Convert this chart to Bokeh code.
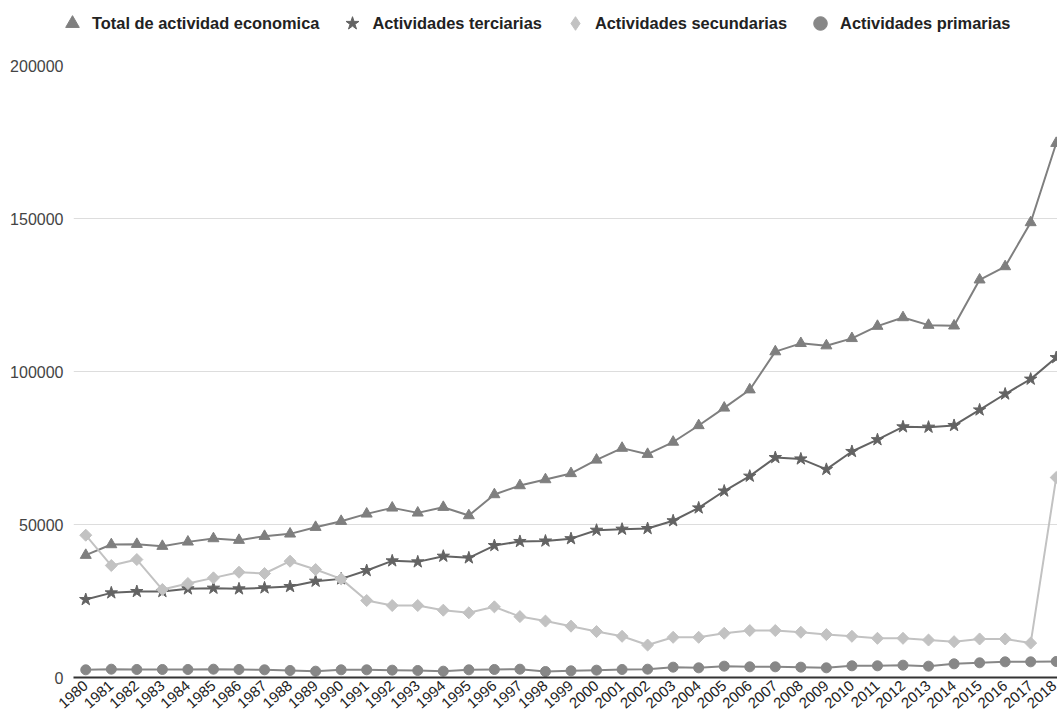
import math
from bokeh.plotting import figure
from bokeh.layouts import column
from bokeh.models import (ColumnDataSource, Legend, LegendItem, FixedTicker,
                          Range1d)
from bokeh.embed import file_html
from bokeh.resources import INLINE

# ---------------- data ----------------
years = list(range(1980, 2019))
year_labels = [str(y) for y in years]

total = [39970, 43450, 43560, 42910, 44320, 45410, 44870, 46170, 46940, 49110,
         51070, 53470, 55430, 53800, 55650, 52930, 59790, 62730, 64690, 66680,
         71100, 74960, 72970, 76950, 82360, 88100, 94050, 106490, 109200, 108440,
         110820, 114820, 117640, 115150, 114930, 129970, 134300, 148690, 174600]

terciarias = [25480, 27660, 28100, 28100, 28970, 29190, 28970, 29290, 29730, 31470,
              32230, 34960, 38120, 37790, 39640, 39100, 43120, 44450, 44600, 45370,
              48130, 48470, 48690, 51230, 55420, 60940, 65800, 71870, 71430, 68010,
              73860, 77720, 81920, 81810, 82360, 87440, 92640, 97510, 104540]

secundarias = [46500, 36590, 38550, 28750, 30710, 32560, 34410, 33980, 38010, 35280,
               32230, 25160, 23520, 23520, 22000, 21130, 23090, 19900, 18440, 16780,
               15010, 13470, 10600, 13140, 13140, 14460, 15350, 15350, 14790, 14020,
               13470, 12810, 12810, 12250, 11700, 12590, 12590, 11260, 65360]

primarias = [2510, 2720, 2620, 2620, 2620, 2720, 2620, 2510, 2290, 2070,
             2510, 2510, 2400, 2290, 2070, 2510, 2620, 2720, 1960, 2180,
             2400, 2620, 2720, 3380, 3160, 3710, 3490, 3490, 3380, 3160,
             3820, 3820, 4030, 3710, 4470, 4800, 5120, 5120, 5230]

series_names = ["Total de actividad economica", "Actividades terciarias",
                "Actividades secundarias", "Actividades primarias"]
y_ticks = [0, 50000, 100000, 150000, 200000]

source = ColumnDataSource(dict(x=years, total=total, terciarias=terciarias,
                               secundarias=secundarias, primarias=primarias))

FONT = "Liberation Sans"
c_total = "#7f7f7f"
c_ter = "#636363"
c_sec = "#c2c2c2"
c_pri = "#878787"
# (column, marker, size, angle, colour)
styles = [("total", "triangle", 11, 0.0, c_total),
          ("terciarias", "star", 13, 0.0, c_ter),
          ("secundarias", "square", 8.5, math.pi / 4, c_sec),
          ("primarias", "circle", 10, 0.0, c_pri)]
legend_markers = ["triangle", "star", "diamond", "circle"]

LEFT = 73
LEG_H = 45

# ---------------- legend strip (top) ----------------
leg = figure(width=1057, height=LEG_H, output_backend="svg", toolbar_location=None,
             x_axis_location=None, y_axis_location=None,
             x_range=Range1d(1979.52, 2018.05), y_range=Range1d(0, 200000),
             min_border_left=0, min_border_right=0,
             min_border_top=0, min_border_bottom=0)
leg.frame_align = False
leg.outline_line_color = None
leg.xgrid.visible = False
leg.ygrid.visible = False
items = []
for name, lm, (key, marker, size, angle, col) in zip(series_names, legend_markers, styles):
    r = leg.scatter("x", key, source=source, marker=lm, size=size,
                    fill_color=col, line_color=col, visible=False)
    items.append(LegendItem(label=name, renderers=[r]))

legend = Legend(items=items, orientation="horizontal", location=(55, 5),
                glyph_width=34, glyph_height=34, label_standoff=3, spacing=16,
                padding=0, margin=0, border_line_color=None,
                background_fill_alpha=0,
                label_text_font=FONT, label_text_font_size="16.4px",
                label_text_font_style="bold", label_text_color="#222222",
                label_height=18)
leg.add_layout(legend, "center")

# ---------------- main chart ----------------
p = figure(width=1057, height=717 - LEG_H, output_backend="svg",
           toolbar_location=None,
           x_range=Range1d(1979.52, 2018.05), y_range=Range1d(0, 200000),
           min_border_left=LEFT, min_border_right=0, min_border_top=65 - LEG_H,
           min_border_bottom=40)
p.outline_line_color = None
p.background_fill_color = "white"
p.border_fill_color = "white"

p.xaxis.ticker = FixedTicker(ticks=years)
p.xaxis.major_label_overrides = {y: l for y, l in zip(years, year_labels)}
p.xaxis.major_label_orientation = 0.72
p.xaxis.major_label_text_font = FONT
p.xaxis.major_label_text_font_size = "15px"
p.xaxis.major_label_text_color = "#222222"
p.xaxis.major_tick_line_color = None
p.xaxis.minor_tick_line_color = None
p.xaxis.major_tick_out = 0
p.xaxis.major_tick_in = 0
p.xaxis.major_label_standoff = 6
p.xaxis.axis_line_color = "#333333"
p.xaxis.axis_line_width = 2

p.yaxis.ticker = FixedTicker(ticks=y_ticks)
p.yaxis.major_label_overrides = {t: str(t) for t in y_ticks}
p.yaxis.major_label_text_font = FONT
p.yaxis.major_label_text_font_size = "16px"
p.yaxis.major_label_text_color = "#444444"
p.yaxis.axis_line_color = None
p.yaxis.major_tick_line_color = None
p.yaxis.minor_tick_line_color = None
p.yaxis.major_tick_out = 0
p.yaxis.major_tick_in = 0
p.yaxis.major_label_standoff = 10

p.xgrid.grid_line_color = None
p.ygrid.grid_line_color = "#dddddd"
p.ygrid.grid_line_width = 1

for key, marker, size, angle, col in styles:
    p.line("x", key, source=source, line_color=col, line_width=2)
    p.scatter("x", key, source=source, marker=marker, size=size, angle=angle,
              fill_color=col, line_color=col)

layout = column(leg, p, spacing=0)
open("out.html", "w").write(file_html(layout, INLINE))
